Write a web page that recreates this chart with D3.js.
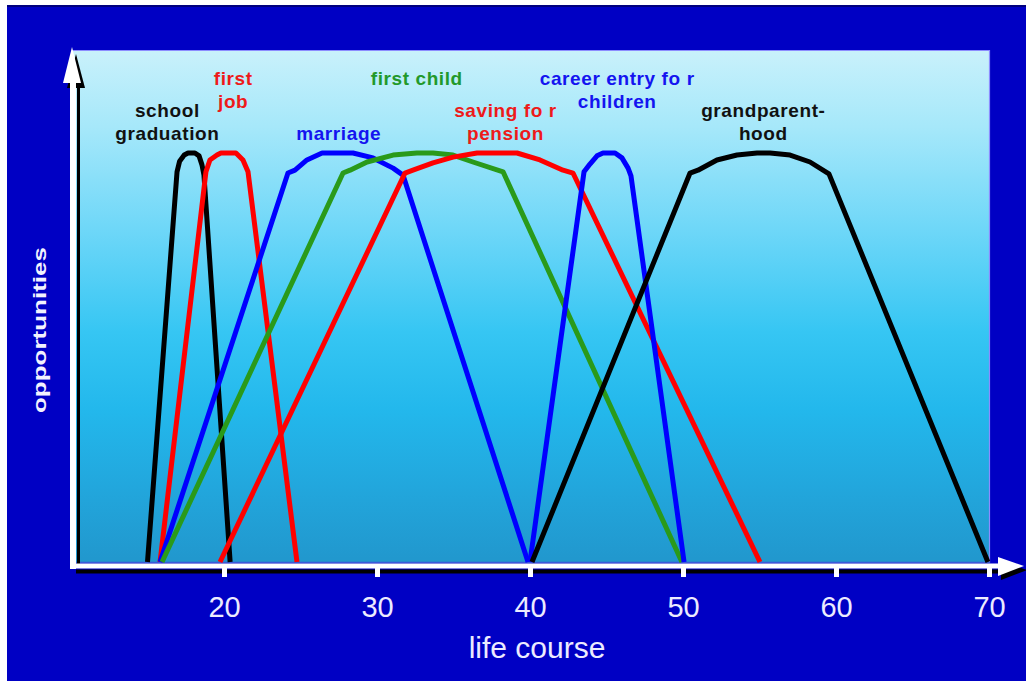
<!DOCTYPE html>
<html>
<head>
<meta charset="utf-8">
<script src="https://cdn.jsdelivr.net/npm/d3@7"></script>
<style>
  html, body { margin: 0; padding: 0; background: #ffffff; }
  svg { display: block; }
  text { font-family: "Liberation Sans", Arial, Helvetica, sans-serif; }
</style>
</head>
<body>
<svg id="chart" width="1026" height="681"></svg>
<script>
// Opportunity windows over the life course: [age, relative opportunity]
const schoolGraduation = [[15.0,0],[16.93,0.954],[17.1,0.98],[17.4,0.995],[17.65,1.0],[18.1,1.0],[18.37,0.993],[18.56,0.971],[18.69,0.946],[20.4,0]];
const firstJob         = [[15.82,0],[18.82,0.954],[19.08,0.983],[19.54,0.995],[19.8,1.0],[20.78,1.0],[21.24,0.983],[21.57,0.954],[24.77,0]];
const marriage         = [[15.82,0],[24.18,0.951],[24.64,0.958],[25.42,0.983],[26.41,1.0],[28.43,1.0],[29.74,0.988],[31.05,0.963],[31.7,0.946],[39.87,0]];
const firstChild       = [[15.95,0],[27.78,0.951],[28.24,0.958],[29.35,0.978],[31.05,0.995],[32.61,1.0],[33.66,1.0],[34.97,0.995],[36.27,0.978],[38.24,0.954],[49.93,0]];
const savingForPension = [[19.74,0],[31.83,0.951],[32.35,0.958],[33.66,0.976],[34.97,0.99],[36.54,1.0],[39.15,1.0],[40.65,0.983],[42.16,0.958],[42.81,0.951],[55.03,0]];
const careerEntryKids  = [[40.0,0],[43.53,0.954],[43.92,0.973],[44.38,0.993],[44.77,1.0],[45.56,1.0],[46.01,0.988],[46.41,0.963],[46.6,0.944],[50.07,0]];
const grandparenthood  = [[40.13,0],[50.46,0.951],[50.98,0.958],[52.22,0.983],[53.53,0.995],[54.84,1.0],[55.69,1.0],[57.0,0.995],[58.3,0.978],[59.54,0.949],[69.93,0]];

// Event names, one entry per text line
const eventNames = [
  ["school", "graduation"],
  ["first", "job"],
  ["marriage"],
  ["first child"],
  ["saving fo r", "pension"],
  ["career entry fo r", "children"],
  ["grandparent-", "hood"]
];

const ageTicks = [20, 30, 40, 50, 60, 70];
const xTitle = "life course";
const yTitle = "opportunities";

// ---- drawing setup ----
const series = [schoolGraduation, firstJob, marriage, firstChild, savingForPension, careerEntryKids, grandparenthood];
const lineColors  = ["#000000", "#ff0000", "#0000ff", "#2a9a1a", "#ff0000", "#0000ff", "#000000"];
const labelColors = ["#111111", "#ee1a1a", "#1414f0", "#22992a", "#ee1a1a", "#1414f0", "#111111"];
// label anchor: centre age and first-line baseline (px), line gap (px)
const labelLayout = [
  { age: 16.3, y: 117 },
  { age: 20.6, y: 85 },
  { age: 27.5, y: 140 },
  { age: 32.6, y: 85 },
  { age: 38.4, y: 117 },
  { age: 45.7, y: 85 },
  { age: 55.25, y: 117 }
];
const lineGap = 23;

const svg = d3.select("#chart");
const W = 1026, H = 681;
const plot = { left: 72, right: 990, top: 50, bottom: 563 };

const x = d3.scaleLinear().domain([20, 70]).range([224, 989]);
const y = d3.scaleLinear().domain([0, 1]).range([562, 153]);

// page background
svg.append("rect").attr("width", W).attr("height", H).attr("fill", "#ffffff");
svg.append("rect").attr("x", 7).attr("y", 5).attr("width", W - 7).attr("height", H - 5).attr("fill", "#0000c4");
svg.append("rect").attr("x", 7).attr("y", 5).attr("width", W - 7).attr("height", 2).attr("fill", "#000050").attr("opacity", 0.6);

// plot background gradient
const defs = svg.append("defs");
const grad = defs.append("linearGradient").attr("id", "plotBg")
  .attr("x1", 0).attr("y1", 0).attr("x2", 0).attr("y2", 1);
[["0%", "#c9f1fb"], ["15%", "#a6e8fa"], ["35%", "#6ed7f8"], ["55%", "#36c6f3"],
 ["70%", "#23b8ec"], ["85%", "#22a7dd"], ["100%", "#2197cd"]]
  .forEach(([o, c]) => grad.append("stop").attr("offset", o).attr("stop-color", c));

svg.append("rect")
  .attr("x", plot.left).attr("y", plot.top)
  .attr("width", plot.right - plot.left).attr("height", plot.bottom - plot.top)
  .attr("fill", "url(#plotBg)");
svg.append("path")
  .attr("d", `M${plot.left},${plot.top + 0.5}H${plot.right - 0.5}V${plot.bottom}`)
  .attr("fill", "none").attr("stroke", "#8c8cff").attr("stroke-width", 1.2);
svg.append("line")
  .attr("x1", plot.left).attr("x2", plot.right).attr("y1", plot.bottom - 0.5).attr("y2", plot.bottom - 0.5)
  .attr("stroke", "#3a5ad8").attr("stroke-width", 1.5);

// curves
const line = d3.line().x(d => x(d[0])).y(d => y(d[1]));
svg.append("g").selectAll("path")
  .data(series)
  .join("path")
  .attr("d", line)
  .attr("fill", "none")
  .attr("stroke", (d, i) => lineColors[i])
  .attr("stroke-width", 5)
  .attr("stroke-linejoin", "round")
  .attr("stroke-linecap", "butt");

// event labels
const lbl = svg.append("g").attr("font-weight", "bold").attr("font-size", 19)
  .attr("letter-spacing", "0.6px").attr("text-anchor", "middle");
eventNames.forEach((lines, i) => {
  const t = lbl.append("text").attr("fill", labelColors[i]);
  lines.forEach((s, k) => {
    t.append("tspan").attr("x", x(labelLayout[i].age)).attr("y", labelLayout[i].y + k * lineGap).text(s);
  });
});

// y axis arrow (with drop shadow)
const ax = svg.append("g");
ax.append("line").attr("x1", 78.5).attr("x2", 78.5).attr("y1", 86).attr("y2", 568)
  .attr("stroke", "#000").attr("stroke-width", 3);
ax.append("polygon").attr("points", "76,54 67,88 85,88").attr("fill", "#000");
ax.append("line").attr("x1", 73).attr("x2", 73).attr("y1", 80).attr("y2", 569)
  .attr("stroke", "#ffffff").attr("stroke-width", 6);
ax.append("polygon").attr("points", "72,47 63,83 81,83").attr("fill", "#ffffff");

// x axis arrow (with drop shadow)
ax.append("line").attr("x1", 76).attr("x2", 1002).attr("y1", 571.5).attr("y2", 571.5)
  .attr("stroke", "#000").attr("stroke-width", 4);
ax.append("polygon").attr("points", "1001,561 1027,570 1001,580").attr("fill", "#000");
ax.append("line").attr("x1", 70).attr("x2", 1000).attr("y1", 566).attr("y2", 566)
  .attr("stroke", "#ffffff").attr("stroke-width", 5);
ax.append("polygon").attr("points", "998,557 1024,566 998,576").attr("fill", "#ffffff");

// ticks and tick labels
const xAxis = d3.axisBottom(x).tickValues(ageTicks).tickSize(9).tickFormat(d3.format("d"));
const gx = svg.append("g").attr("transform", "translate(0,568)").call(xAxis);
gx.select(".domain").remove();
gx.selectAll(".tick line").attr("stroke", "#ffffff").attr("stroke-width", 5);
gx.selectAll(".tick text")
  .attr("fill", "#ecebff")
  .attr("font-size", 29)
  .attr("font-family", "'Liberation Sans', Arial, sans-serif")
  .attr("dy", null)
  .attr("y", 49);

// axis titles
svg.append("text")
  .attr("x", 537).attr("y", 658)
  .attr("text-anchor", "middle")
  .attr("font-size", 30)
  .attr("fill", "#ecebff")
  .text(xTitle);

svg.append("text")
  .attr("transform", "translate(46,330) rotate(-90)")
  .attr("text-anchor", "middle")
  .attr("font-size", 19)
  .attr("font-weight", "bold")
  .attr("textLength", 166)
  .attr("lengthAdjust", "spacingAndGlyphs")
  .attr("fill", "#f2f2ff")
  .text(yTitle);
</script>
</body>
</html>
